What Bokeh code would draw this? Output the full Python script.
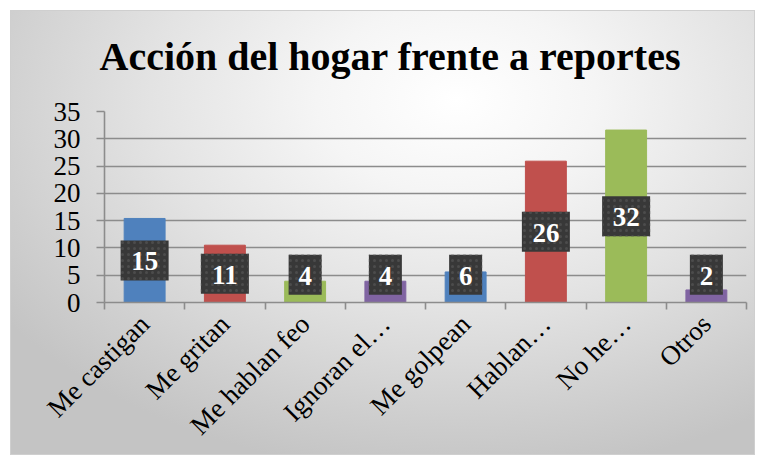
import math
from bokeh.plotting import figure
from bokeh.models import FixedTicker, ColumnDataSource, Title
from bokeh.core.properties import value
from bokeh.embed import file_html
from bokeh.resources import INLINE

title_text = "Acción del hogar frente a reportes"
categories = ["Me castigan", "Me gritan", "Me hablan feo", "Ignoran el\u2026",
              "Me golpean", "Hablan\u2026", "No he\u2026", "Otros"]
values = [15.4, 10.5, 3.9, 3.9, 5.6, 25.9, 31.6, 2.3]
labels = ["15", "11", "4", "4", "6", "26", "32", "2"]
colors = ["#4F81BD", "#C0504D", "#9BBB59", "#8064A2",
          "#4F81BD", "#C0504D", "#9BBB59", "#8064A2"]
y_ticks = [0, 5, 10, 15, 20, 25, 30, 35]

xs = list(range(1, len(categories) + 1))
label_y = [max(v / 2, 5.1) for v in values]
box_w = [18 + 15 * len(t) for t in labels]

src = ColumnDataSource(dict(x=xs, top=values, color=colors, ly=label_y,
                            lab=labels, bw=box_w))

p = figure(width=745, height=445, output_backend="svg", toolbar_location=None,
           x_range=(0.5, len(categories) + 0.5), y_range=(0, 35),
           title=None,
           min_border_left=93, min_border_right=10, min_border_top=100,
           min_border_bottom=154)
p.styles = {"background": "radial-gradient(ellipse 75% 85% at 60% 20%, #ffffff 0%, #f5f5f5 25%, #e3e3e3 55%, #cecece 85%, #c4c4c4 100%)",
            "border": "1px solid #cfcfcf",
            "margin-left": "10px", "margin-top": "10px"}
p.background_fill_alpha = 0
p.border_fill_alpha = 0
p.outline_line_color = None

# inner spacer between the title and the plot area
p.add_layout(Title(text=" ", text_font_size="1px", standoff=8), "above")
p.add_layout(Title(text=title_text, align="left", offset=-5,
                   vertical_align="top", standoff=40,
                   text_font="Liberation Serif", text_font_style="bold",
                   text_font_size="40px", text_color="#000000"), "above")

p.vbar(x="x", top="top", width=0.51, color="color", source=src)

p.rect(x="x", y="ly", width="bw", height=40, width_units="screen",
       height_units="screen", fill_color="#383838", line_color=None,
       hatch_pattern="dot", hatch_color="#4c4c4c", hatch_scale=6,
       hatch_weight=1, source=src)
p.text(x="x", y="ly", text="lab", text_align="center", text_baseline="middle",
       text_color="white", text_font=value("Liberation Serif"),
       text_font_style="bold", text_font_size="27px", y_offset=1, source=src)

grey = "#8c8c8c"
p.xgrid.grid_line_color = None
p.ygrid.grid_line_color = grey
p.ygrid.grid_line_width = 1.6
p.ygrid.ticker = FixedTicker(ticks=y_ticks)

p.yaxis.ticker = FixedTicker(ticks=y_ticks)
p.yaxis.axis_line_color = grey
p.yaxis.axis_line_width = 1.6
p.yaxis.major_tick_line_color = grey
p.yaxis.major_tick_line_width = 1.6
p.yaxis.major_tick_out = 8
p.yaxis.major_tick_in = 0
p.yaxis.minor_tick_line_color = None
p.yaxis.major_label_standoff = 16
p.yaxis.major_label_text_font = "Liberation Serif"
p.yaxis.major_label_text_font_size = "27px"
p.yaxis.major_label_text_color = "#000000"

p.xaxis.ticker = FixedTicker(ticks=xs, minor_ticks=[x - 0.5 for x in xs] + [xs[-1] + 0.5])
p.xaxis.major_label_overrides = {x: c for x, c in zip(xs, categories)}
p.xaxis.major_label_orientation = math.pi / 4
p.xaxis.axis_line_color = grey
p.xaxis.axis_line_width = 1.6
p.xaxis.major_tick_line_color = None
p.xaxis.major_tick_out = 0
p.xaxis.major_tick_in = 0
p.xaxis.minor_tick_line_color = grey
p.xaxis.minor_tick_line_width = 1.6
p.xaxis.minor_tick_out = 7
p.xaxis.minor_tick_in = 0
p.xaxis.major_label_standoff = 10
p.xaxis.major_label_text_font = "Liberation Serif"
p.xaxis.major_label_text_font_size = "27px"
p.xaxis.major_label_text_color = "#000000"

open("out.html", "w").write(file_html(p, INLINE))
